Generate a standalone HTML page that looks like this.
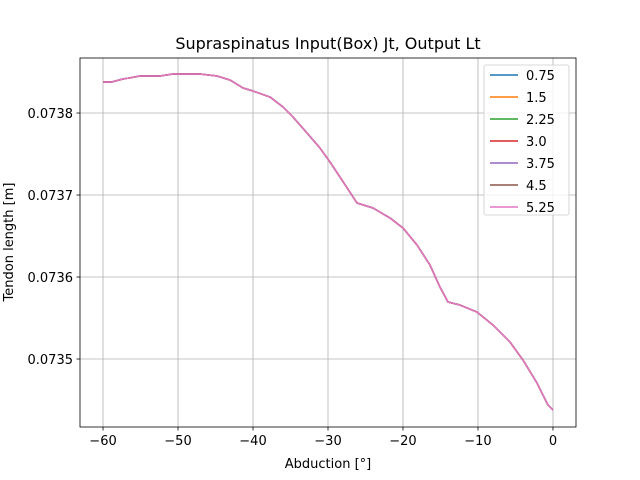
<!DOCTYPE html>
<html><head><meta charset="utf-8"><style>body{margin:0;background:#fff}svg{display:block;font-family:"DejaVu Sans","Liberation Sans",sans-serif}</style></head>
<body>
<svg id="c" width="640" height="480" xmlns="http://www.w3.org/2000/svg"></svg>
<script>
const xs=[-60,-58.84,-57.33,-55.07,-52.4,-50.67,-47.07,-44.8,-43.07,-41.33,-40,-37.73,-36,-34.67,-32.8,-31.07,-29.73,-28.4,-26.13,-24,-21.73,-20,-18.13,-16.4,-15.07,-14,-12.4,-10.13,-8,-5.73,-4,-2.13,-0.67,0];
const ys=[.0738378,.0738378,.07384146,.07384512,.07384512,.07384756,.07384756,.07384512,.07384024,.07383049,.07382683,.07381951,.07380732,.07379512,.07377561,.07375732,.07374024,.07372195,.07369024,.07368415,.07367195,.07365976,.07363902,.07361463,.0735878,.07356951,.07356585,.07355732,.07354146,.07352073,.07349878,.07347073,.0734439,.0734378];
const seriesNames=["0.75","1.5","2.25","3.0","3.75","4.5","5.25"];
const colors=["#1f77b4","#ff7f0e","#2ca02c","#d62728","#9467bd","#8c564b","#e377c2"];
const xTicks=[-60,-50,-40,-30,-20,-10,0];
const yTicks=[0.0735,0.0736,0.0737,0.0738];
const L=80,R=576,T=58,B=427,x0=-63.07,x1=3.07,y0=0.0734171,y1=0.0738671;
const X=v=>L+(v-x0)/(x1-x0)*(R-L), Y=v=>B-(v-y0)/(y1-y0)*(B-T);
const s=document.getElementById('c'),NS="http://www.w3.org/2000/svg";
function mk(t,a,txt){const e=document.createElementNS(NS,t);for(const k in a)e.setAttribute(k,a[k]);if(txt!=null)e.textContent=txt;s.appendChild(e);return e;}
xTicks.forEach(v=>{const x=X(v);
const g=mk('line',{x1:x,x2:x,y1:T,y2:B,stroke:'#b0b0b0','stroke-width':0.8});


const t=mk('line',{x1:x,x2:x,y1:B,y2:B+3.5,stroke:'#000','stroke-width':0.8});


const l=mk('text',{x:x,y:B+18,'font-size':13,'text-anchor':'middle'},v===0?'0':'−'+Math.abs(v));

});
yTicks.forEach(v=>{const y=Y(v);
const g=mk('line',{x1:L,x2:R,y1:y,y2:y,stroke:'#b0b0b0','stroke-width':0.8});


const t=mk('line',{x1:L-3.5,x2:L,y1:y,y2:y,stroke:'#000','stroke-width':0.8});


const l=mk('text',{x:L-7,y:y+5,'font-size':13,'text-anchor':'end'},v.toFixed(4));

});
seriesNames.forEach((n,i)=>{const p=mk('polyline',{points:xs.map((v,j)=>X(v)+','+Y(ys[j])).join(' '),fill:'none',stroke:colors[i],'stroke-width':1.5,'stroke-linejoin':'round'});

});
const f=mk('rect',{x:L,y:T,width:R-L,height:B-T,fill:'none',stroke:'#000','stroke-width':0.8});


const tt=mk('text',{x:328,y:49,'font-size':16,'text-anchor':'middle'},'Supraspinatus Input(Box) Jt, Output Lt');


const xt=mk('text',{x:328,y:468,'font-size':13,'text-anchor':'middle'},'Abduction [°]');


const yt=mk('text',{x:0,y:0,'font-size':13,'text-anchor':'middle',transform:'translate(13,242) rotate(-90)'},'Tendon length [m]');


const lb=mk('rect',{x:484,y:65,width:85,height:150,rx:2,fill:'#fff','fill-opacity':0.8,stroke:'#ccc','stroke-width':0.8});


seriesNames.forEach((n,i)=>{const y=75+i*22;
const ln=mk('line',{x1:490,x2:518,y1:y,y2:y,stroke:colors[i],'stroke-width':1.5});


const t=mk('text',{x:526,y:y+5,'font-size':13},n);

});
</script>
</body></html>
